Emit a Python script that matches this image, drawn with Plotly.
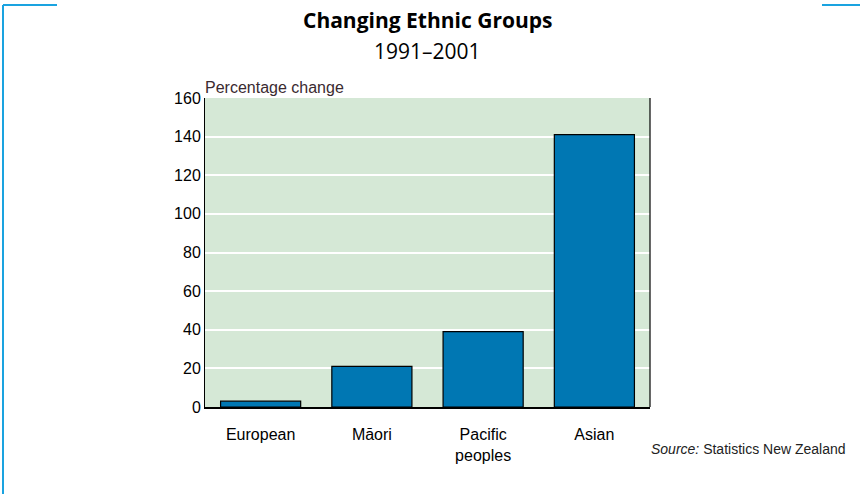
import plotly.graph_objects as go

categories = ["European", "Māori", "Pacific<br>peoples", "Asian"]
pct_change = [3, 21, 39, 141]
y_ticks = [0, 20, 40, 60, 80, 100, 120, 140, 160]

fig = go.Figure(go.Bar(
    x=categories, y=pct_change,
    marker=dict(color="#0077b3", line=dict(color="black", width=1.2)),
    width=0.72,
))

fig.update_layout(
    width=860, height=494,
    margin=dict(l=205, r=210, t=98, b=87),
    plot_bgcolor="#d5e8d6", paper_bgcolor="white",
    font=dict(family="Liberation Sans, Arial", size=16, color="black"),
    showlegend=False,
    bargap=0.28,
    xaxis=dict(showline=True, linecolor="black", linewidth=1.5, mirror=False,
               ticks="outside", ticklen=12, tickcolor="rgba(0,0,0,0)",
               tickfont=dict(size=16)),
    yaxis=dict(range=[0, 160], tickvals=y_ticks, showgrid=True, gridcolor="white",
               gridwidth=1.5, showline=True, linecolor="black", linewidth=1,
               ticks="", zeroline=False, tickfont=dict(size=16)),
)
# right edge of plot frame
fig.add_shape(type="line", xref="paper", yref="paper", x0=1, x1=1, y0=0, y1=1,
              line=dict(color="black", width=1.2))

fig.add_annotation(text="<b>Changing Ethnic Groups</b>", xref="paper", yref="paper",
                   x=0.5, y=1.2, xanchor="center", yanchor="bottom", showarrow=False,
                   font=dict(family="Open Sans", size=21))
fig.add_annotation(text="1991–2001", xref="paper", yref="paper",
                   x=0.5, y=1.1, xanchor="center", yanchor="bottom", showarrow=False,
                   font=dict(family="Open Sans", size=21))
fig.add_annotation(text="Percentage change", xref="paper", yref="paper",
                   x=-0.005, y=1.0, xanchor="left", yanchor="bottom", showarrow=False,
                   font=dict(size=16, color="#3a2a30"))
fig.add_annotation(text="<i>Source:</i> Statistics New Zealand", xref="paper", yref="paper",
                   x=1.445, y=-0.105, xanchor="right", yanchor="top", showarrow=False,
                   font=dict(size=14, color="#222"))

# cyan corner frame lines
cyan = "#1aa3e0"
for x0, x1, y0, y1 in [(3, 57, 5, 5), (3, 3, 5, 494), (822, 860, 5, 5)]:
    fig.add_shape(type="line", xref="paper", yref="paper",
                  x0=(x0 - 205) / 445, x1=(x1 - 205) / 445,
                  y0=(407 - y0) / 309, y1=(407 - y1) / 309,
                  line=dict(color=cyan, width=2))

fig.write_html("out.html", config={"displayModeBar": False},
               post_script="document.body.style.margin='0';")
